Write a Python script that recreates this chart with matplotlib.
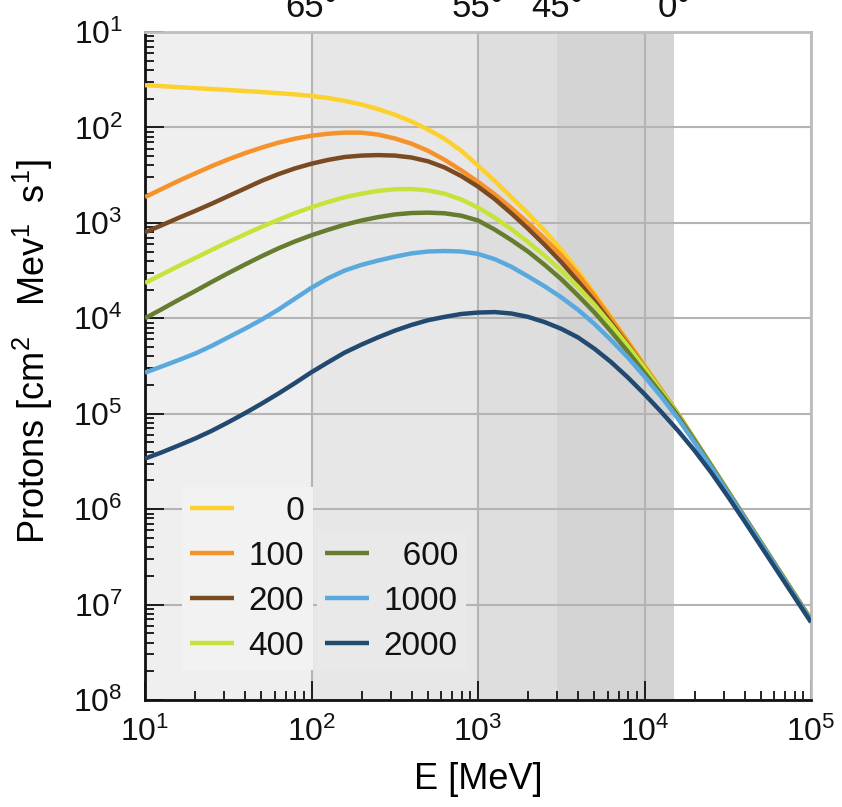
import numpy as np
import matplotlib
matplotlib.use("Agg")
import matplotlib.pyplot as plt
from matplotlib.ticker import FuncFormatter, LogLocator, NullFormatter

plt.rcParams['font.family'] = ['Liberation Sans', 'DejaVu Sans']
plt.rcParams['mathtext.fontset'] = 'custom'
plt.rcParams['mathtext.rm'] = 'Liberation Sans'
plt.rcParams['mathtext.it'] = 'Liberation Sans:italic'
plt.rcParams['mathtext.bf'] = 'Liberation Sans:bold'

# ---- data ----
energy = [10, 12.6, 15.8, 20.0, 25.1, 31.6, 39.8, 50.1, 63.1, 79.4,
          100, 126, 158, 200, 251, 316, 398, 501, 631, 794,
          1000, 1259, 1585, 1995, 2512, 3162, 3981, 5012, 6310, 7943,
          10000, 12589, 15849, 19953, 25119, 31623, 39811, 50119, 63096, 79433,
          100000]

# log10 of proton flux
logflux_0 = [-1.557, -1.567, -1.578, -1.588, -1.598, -1.608, -1.618, -1.629, -1.641, -1.654,
             -1.670, -1.692, -1.722, -1.760, -1.808, -1.866, -1.937, -2.022, -2.120, -2.245,
             -2.400, -2.560, -2.730, -2.900, -3.080, -3.280, -3.500, -3.740, -3.990, -4.240,
             -4.490, -4.745, -5.000, -5.270, -5.540, -5.810, -6.080, -6.350, -6.620, -6.890,
             -7.160]
logflux_100 = [-2.730, -2.645, -2.562, -2.482, -2.406, -2.335, -2.270, -2.212, -2.160, -2.118,
               -2.087, -2.066, -2.054, -2.055, -2.075, -2.115, -2.170, -2.245, -2.340, -2.450,
               -2.570, -2.700, -2.845, -3.000, -3.165, -3.340, -3.540, -3.765, -4.005, -4.250,
               -4.500, -4.750, -5.000, -5.270, -5.540, -5.810, -6.080, -6.350, -6.620, -6.890,
               -7.160]
logflux_200 = [-3.100, -3.025, -2.950, -2.875, -2.800, -2.720, -2.640, -2.560, -2.490, -2.430,
               -2.380, -2.340, -2.310, -2.295, -2.290, -2.295, -2.315, -2.355, -2.420, -2.510,
               -2.620, -2.750, -2.900, -3.060, -3.230, -3.410, -3.610, -3.820, -4.050, -4.280,
               -4.520, -4.760, -5.005, -5.270, -5.540, -5.810, -6.080, -6.350, -6.620, -6.890,
               -7.160]
logflux_400 = [-3.630, -3.542, -3.455, -3.369, -3.284, -3.201, -3.120, -3.042, -2.968, -2.899,
               -2.836, -2.780, -2.732, -2.694, -2.665, -2.648, -2.645, -2.660, -2.695, -2.755,
               -2.840, -2.945, -3.065, -3.200, -3.345, -3.500, -3.670, -3.860, -4.070, -4.290,
               -4.520, -4.760, -5.005, -5.270, -5.540, -5.810, -6.080, -6.350, -6.620, -6.890,
               -7.160]
logflux_600 = [-4.000, -3.905, -3.810, -3.715, -3.620, -3.527, -3.437, -3.350, -3.268, -3.195,
               -3.130, -3.072, -3.020, -2.975, -2.940, -2.912, -2.897, -2.893, -2.900, -2.925,
               -2.975, -3.070, -3.180, -3.300, -3.440, -3.590, -3.760, -3.940, -4.140, -4.350,
               -4.570, -4.790, -5.020, -5.280, -5.545, -5.815, -6.085, -6.355, -6.625, -6.895,
               -7.165]
logflux_1000 = [-4.570, -4.505, -4.440, -4.370, -4.290, -4.200, -4.110, -4.015, -3.910, -3.795,
                -3.680, -3.580, -3.500, -3.440, -3.395, -3.355, -3.320, -3.300, -3.295, -3.300,
                -3.325, -3.380, -3.460, -3.560, -3.665, -3.780, -3.910, -4.060, -4.230, -4.410,
                -4.610, -4.820, -5.050, -5.300, -5.560, -5.825, -6.090, -6.360, -6.630, -6.900,
                -7.170]
logflux_2000 = [-5.470, -5.405, -5.335, -5.260, -5.180, -5.090, -4.995, -4.895, -4.790, -4.680,
                -4.565, -4.460, -4.360, -4.275, -4.200, -4.130, -4.070, -4.020, -3.985, -3.955,
                -3.940, -3.935, -3.950, -3.985, -4.040, -4.110, -4.200, -4.320, -4.460, -4.620,
                -4.795, -4.980, -5.175, -5.385, -5.615, -5.865, -6.125, -6.390, -6.655, -6.920,
                -7.185]

series_labels = ['0', '100', '200', '400', '600', '1000', '2000']
series_colors = ['#fcd12e', '#f5922a', '#7a4b22', '#c6e33c', '#667c2e', '#5aa9de', '#224a70']

band_edges = [10, 100, 1000, 3000, 15000]
band_colors = ['#efefef', '#e7e7e7', '#dedede', '#d4d4d4']
angle_labels = ['65°', '55°', '45°', '0°']
angle_positions = [100, 1000, 3000, 15000]

# ---- figure ----
fig = plt.figure(figsize=(8.42, 8.07), dpi=100)
ax = fig.add_axes([145/842, 1-700/807, (811-145)/842, (700-32)/807])
ax.set_xscale('log')
ax.set_yscale('log')
ax.set_xlim(10, 1e5)
ax.set_ylim(1e-8, 1e-1)

for i in range(len(band_colors)):
    ax.axvspan(band_edges[i], band_edges[i+1], color=band_colors[i], zorder=0, lw=0)

ax.set_axisbelow(True)
ax.grid(True, which='major', color='#b4b4b4', lw=1.5)

all_series = [logflux_0, logflux_100, logflux_200, logflux_400, logflux_600, logflux_1000, logflux_2000]
lines = []
for lf, lab, col in zip(all_series, series_labels, series_colors):
    ln, = ax.plot(energy, 10**np.array(lf), color=col, lw=3.2, label=lab, zorder=3,
                  solid_capstyle='butt', solid_joinstyle='round')
    lines.append(ln)

# ticks
ax.xaxis.set_major_locator(LogLocator(base=10, numticks=10))
ax.xaxis.set_minor_locator(LogLocator(base=10, subs=np.arange(2, 10), numticks=20))
ax.yaxis.set_major_locator(LogLocator(base=10, numticks=10))
ax.yaxis.set_minor_locator(LogLocator(base=10, subs=np.arange(2, 10), numticks=20))
ax.xaxis.set_major_formatter(FuncFormatter(lambda v, p: r'$\mathregular{10^{%d}}$' % round(np.log10(v))))
ax.yaxis.set_major_formatter(FuncFormatter(lambda v, p: r'$\mathregular{10^{%d}}$' % (-round(np.log10(v)))))
ax.xaxis.set_minor_formatter(NullFormatter())
ax.yaxis.set_minor_formatter(NullFormatter())
ax.tick_params(which='both', direction='in', colors='#111111', labelsize=23, width=1.3)
ax.tick_params(which='major', length=14)
ax.tick_params(which='minor', length=6.5)
ax.tick_params(axis='x', which='major', pad=12)
ax.tick_params(axis='y', which='major', pad=16)
ax.tick_params(top=False, right=False, which='both')

for s in ['left', 'bottom']:
    ax.spines[s].set_color('#111111')
    ax.spines[s].set_linewidth(2.0)
for s in ['top', 'right']:
    ax.spines[s].set_color('#bdbdbd')
    ax.spines[s].set_linewidth(2.0)

ax.set_xlabel('E [MeV]', fontsize=26, labelpad=10)
ax.set_ylabel(r'Protons [cm$^{2}$   Mev$^{1}$  s$^{1}$]', fontsize=26)
ax.yaxis.set_label_coords(-0.135, 0.522)

# angle labels at top (partly cut by the figure edge, as in the original)
for lab, pos in zip(angle_labels, angle_positions):
    xf = fig.transFigure.inverted().transform(ax.transData.transform((pos, 1e-1)))[0]
    fig.text(xf, 1 - 17/807, lab, ha='center', va='baseline', fontsize=25, color='#111111')

# legends
fs = '\u2007'
leg_kw = dict(frameon=True, fancybox=False, framealpha=1.0,
              edgecolor='none', fontsize=24, handlelength=1.3, handletextpad=0.45,
              labelspacing=0.42, borderpad=0.25, borderaxespad=0)
h1 = lines[:4]
l1 = [fs*2 + '0', '100', '200', '400']
leg1 = ax.legend(h1, l1, loc='lower left', bbox_to_anchor=(37/666, 30/668),
                 facecolor='#f2f2f2', **leg_kw)
ax.add_artist(leg1)
h2 = lines[4:]
l2 = [fs + '600', '1000', '2000']
leg2 = ax.legend(h2, l2, loc='lower left', bbox_to_anchor=(172/666, 30/668),
                 facecolor='#e9e9e9', **leg_kw)
for lg in (leg1, leg2):
    lg.set_zorder(4)
    for t in lg.get_texts():
        t.set_color('#111111')

fig.savefig('out.png', dpi=100)
